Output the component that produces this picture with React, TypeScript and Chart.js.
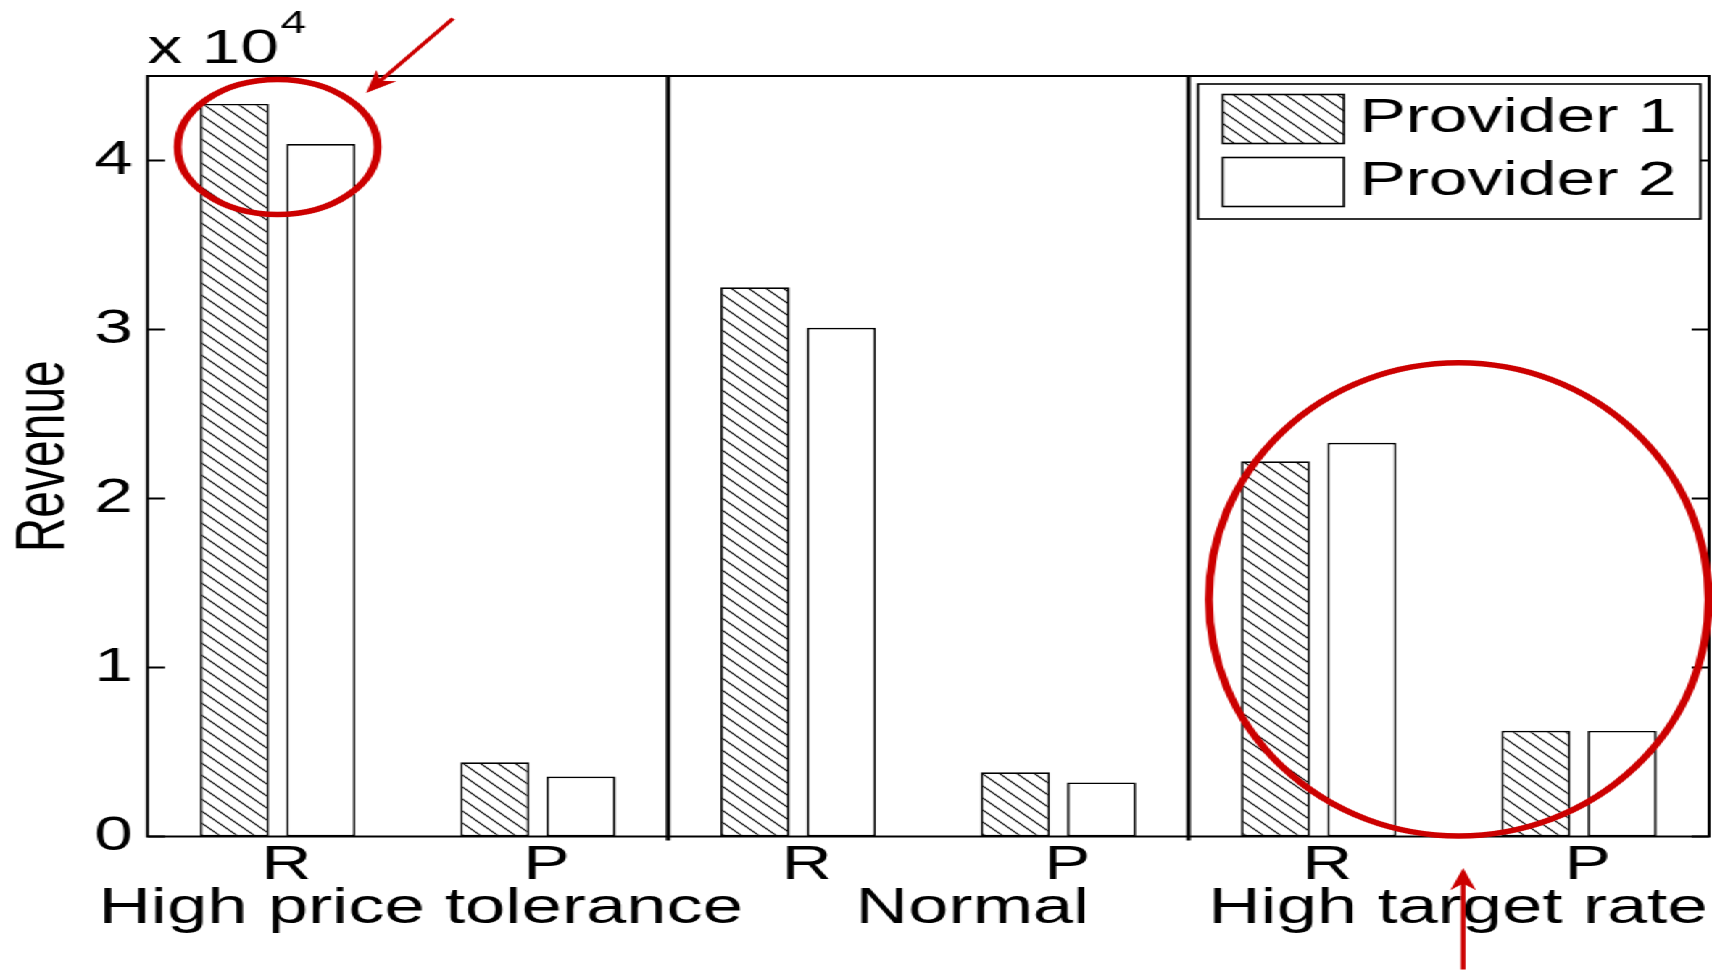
import React, { useEffect, useRef } from "react";
import { Chart, registerables } from "chart.js";

Chart.register(...registerables);

// ---------- data ----------
const categories = ["R", "P", "R", "P", "R", "P"];
const groupLabels = ["High price tolerance", "Normal", "High target rate"];
const groupLabelAnchors = [0.55, 2.67, 4.535]; // in category-index units
const groupBoundaries = [1.5, 3.5]; // between category indices
const seriesNames = ["Provider 1", "Provider 2"];
const provider1 = [43350, 4390, 32500, 3800, 22200, 6260];
const provider2 = [40970, 3550, 30100, 3200, 23300, 6250];
const yTicks = [0, 10000, 20000, 30000, 40000];
const yMin = 0;
const yMax = 45000;
const yExponent = 4;

// red annotations, in data units (category index, revenue)
const annotEllipses = [
  { cx: 0.0, cy: 40800, rx: 0.384, ry: 4000 },
  { cx: 4.538, cy: 14030, rx: 0.96, ry: 14000 },
];
const annotArrows = [
  { x1: 0.674, y1: 48400, x2: 0.34, y2: 44000 },
  { x1: 4.555, y1: -7870, x2: 4.555, y2: -1860 },
];

// ---------- layout ----------
const WIN_W = 1712;
const WIN_H = 975;
const BASE_W = 1181;
const STRETCH = WIN_W / BASE_W;
const FONT = "'Liberation Sans', Arial, Helvetica, sans-serif";
const FS = 48;
const FS_GROUP = 50;

function makeHatch(): CanvasPattern | string {
  const n = 12;
  const c = document.createElement("canvas");
  c.width = n;
  c.height = n;
  const g = c.getContext("2d");
  if (!g) return "#fff";
  g.fillStyle = "#fff";
  g.fillRect(0, 0, n, n);
  g.strokeStyle = "#000";
  g.lineWidth = 1.1;
  g.beginPath();
  g.moveTo(-2, -2);
  g.lineTo(n + 2, n + 2);
  g.moveTo(-2, n - 2);
  g.lineTo(2, n + 2);
  g.moveTo(n - 2, -2);
  g.lineTo(n + 2, 2);
  g.stroke();
  const p = g.createPattern(c, "repeat");
  return p || "#fff";
}

export default function App() {
  const ref = useRef<HTMLCanvasElement | null>(null);

  useEffect(() => {
    const canvas = ref.current;
    if (!canvas) return;
    const hatch = makeHatch();
    const fills = [hatch, "#ffffff"];

    const decorPlugin = {
      id: "decor",
      afterDatasetsDraw(chart: any) {
        const { ctx, chartArea: a, scales } = chart;
        const xs = scales.x;
        const ys = scales.y;
        ctx.save();
        ctx.strokeStyle = "#000";
        // group dividers
        ctx.lineWidth = 3;
        groupBoundaries.forEach((b) => {
          const px = xs.getPixelForValue(b);
          ctx.beginPath();
          ctx.moveTo(px, a.top);
          ctx.lineTo(px, a.bottom + 4);
          ctx.stroke();
        });
        // frame
        ctx.lineWidth = 2;
        ctx.strokeRect(a.left, a.top, a.right - a.left, a.bottom - a.top);
        // inward y ticks on both sides
        ctx.lineWidth = 1.8;
        yTicks.forEach((v) => {
          const py = ys.getPixelForValue(v);
          ctx.beginPath();
          ctx.moveTo(a.left, py);
          ctx.lineTo(a.left + 12, py);
          ctx.moveTo(a.right, py);
          ctx.lineTo(a.right - 12, py);
          ctx.stroke();
        });
        // exponent label
        ctx.fillStyle = "#000";
        ctx.textAlign = "left";
        ctx.textBaseline = "alphabetic";
        ctx.font = `${FS}px ${FONT}`;
        const base = "x 10";
        ctx.fillText(base, a.left, a.top - 13);
        const w = ctx.measureText(base).width;
        ctx.font = `32px ${FONT}`;
        ctx.fillText(String(yExponent), a.left + w + 1, a.top - 43);
        // group labels
        ctx.font = `${FS_GROUP}px ${FONT}`;
        ctx.textAlign = "center";
        groupLabels.forEach((t, i) => {
          ctx.fillText(t, xs.getPixelForValue(groupLabelAnchors[i]), a.bottom + 86);
        });
        // legend
        ctx.font = `${FS}px ${FONT}`;
        const textW = Math.max(...seriesNames.map((s) => ctx.measureText(s).width));
        const padL = 17;
        const patchW = 83.6;
        const patchH = 49;
        const gap = 10.7;
        const padR = 16.5;
        const boxW = padL + patchW + gap + textW + padR;
        const boxH = 135;
        const right = a.right - 6;
        const left = right - boxW;
        const top = a.top + 8;
        ctx.fillStyle = "#fff";
        ctx.fillRect(left, top, boxW, boxH);
        ctx.lineWidth = 1.6;
        ctx.strokeRect(left, top, boxW, boxH);
        seriesNames.forEach((s, i) => {
          const cy = top + 35 + i * 63;
          ctx.fillStyle = fills[i] as any;
          ctx.fillRect(left + padL, cy - patchH / 2, patchW, patchH);
          ctx.strokeStyle = "#000";
          ctx.lineWidth = 1.6;
          ctx.strokeRect(left + padL, cy - patchH / 2, patchW, patchH);
          ctx.fillStyle = "#000";
          ctx.textAlign = "left";
          ctx.textBaseline = "middle";
          ctx.fillText(s, left + padL + patchW + gap, cy);
        });
        ctx.restore();
      },
      afterDraw(chart: any) {
        const { ctx, scales } = chart;
        const xs = scales.x;
        const ys = scales.y;
        const unit = Math.abs(xs.getPixelForValue(1) - xs.getPixelForValue(0));
        ctx.save();
        ctx.strokeStyle = "#cc0000";
        ctx.fillStyle = "#cc0000";
        ctx.lineWidth = 5.5;
        annotEllipses.forEach((e) => {
          const cx = xs.getPixelForValue(e.cx);
          const cy = ys.getPixelForValue(e.cy);
          const rx = e.rx * unit;
          const ry = Math.abs(ys.getPixelForValue(e.cy + e.ry) - cy);
          ctx.beginPath();
          ctx.ellipse(cx, cy, rx, ry, 0, 0, Math.PI * 2);
          ctx.stroke();
        });
        ctx.lineWidth = 3.2;
        annotArrows.forEach((ar) => {
          const x1 = xs.getPixelForValue(ar.x1);
          const y1 = ys.getPixelForValue(ar.y1);
          const x2 = xs.getPixelForValue(ar.x2);
          const y2 = ys.getPixelForValue(ar.y2);
          const ang = Math.atan2(y2 - y1, x2 - x1);
          const hl = 24;
          ctx.beginPath();
          ctx.moveTo(x1, y1);
          ctx.lineTo(x2 - 8 * Math.cos(ang), y2 - 8 * Math.sin(ang));
          ctx.stroke();
          ctx.beginPath();
          ctx.moveTo(x2, y2);
          ctx.lineTo(x2 - hl * Math.cos(ang - 0.38), y2 - hl * Math.sin(ang - 0.38));
          ctx.lineTo(x2 - hl * 0.65 * Math.cos(ang), y2 - hl * 0.65 * Math.sin(ang));
          ctx.lineTo(x2 - hl * Math.cos(ang + 0.38), y2 - hl * Math.sin(ang + 0.38));
          ctx.closePath();
          ctx.fill();
        });
        ctx.restore();
      },
    };

    const chart = new Chart(canvas, {
      type: "bar",
      data: {
        labels: categories,
        datasets: [
          {
            label: seriesNames[0],
            data: provider1,
            backgroundColor: hatch as any,
            borderColor: "#000",
            borderWidth: 1.7,
            borderSkipped: false,
            categoryPercentage: 0.663,
            barPercentage: 0.8,
          },
          {
            label: seriesNames[1],
            data: provider2,
            backgroundColor: "#ffffff",
            borderColor: "#000",
            borderWidth: 1.7,
            borderSkipped: false,
            categoryPercentage: 0.663,
            barPercentage: 0.8,
          },
        ],
      },
      options: {
        animation: false,
        responsive: true,
        maintainAspectRatio: false,
        layout: { padding: { left: 0, right: 2, top: 76, bottom: 0 } },
        plugins: {
          legend: { display: false },
          tooltip: { enabled: false },
          title: { display: false },
        },
        scales: {
          x: {
            type: "category",
            offset: true,
            grid: { display: false, drawTicks: false },
            border: { display: false },
            ticks: {
              color: "#000",
              font: { family: FONT, size: FS },
              padding: 0,
              labelOffset: 6,
              maxRotation: 0,
              autoSkip: false,
            },
            afterFit: (s: any) => {
              s.height = 138.5;
            },
          },
          y: {
            min: yMin,
            max: yMax,
            grid: { display: false, drawTicks: false },
            border: { display: false },
            afterBuildTicks: (s: any) => {
              s.ticks = yTicks.map((v) => ({ value: v }));
            },
            ticks: {
              color: "#000",
              font: { family: FONT, size: FS },
              padding: 10,
              callback: (v: any) => String(Number(v) / Math.pow(10, yExponent)),
            },
            title: {
              display: true,
              text: "Revenue",
              color: "#000",
              font: { family: FONT, size: FS },
              padding: { top: 2, bottom: 0 },
            },
            afterFit: (s: any) => {
              s.width = 101.75;
            },
          },
        },
      },
      plugins: [decorPlugin],
    });

    return () => {
      chart.destroy();
    };
  }, []);

  return (
    <div
      style={{
        position: "fixed",
        left: 0,
        top: 0,
        width: BASE_W,
        height: WIN_H,
        background: "#fff",
        transform: `scaleX(${STRETCH})`,
        transformOrigin: "0 0",
      }}
    >
      <canvas ref={ref} />
    </div>
  );
}
